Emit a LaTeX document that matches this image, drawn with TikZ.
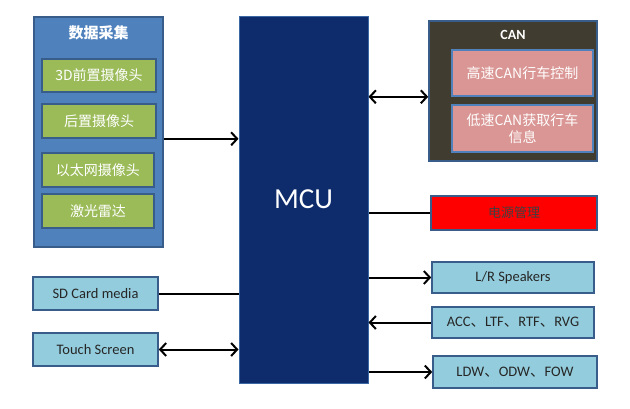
\documentclass[tikz,border=0pt]{standalone}
\usepackage{fontspec}
\setmainfont{Carlito}
\newfontfamily\cjk{Noto Sans CJK SC}
\usetikzlibrary{arrows.meta}
\definecolor{outerblue}{HTML}{4F81BD}
\definecolor{edgeblue}{HTML}{385D8A}
\definecolor{leaf}{HTML}{9BBB59}
\definecolor{navy}{HTML}{0E2C6C}
\definecolor{canbg}{HTML}{413C30}
\definecolor{pinkbox}{HTML}{D99694}
\definecolor{aqua}{HTML}{93CDDD}
\definecolor{txtdark}{HTML}{262626}
\tikzset{
  base/.style={draw=edgeblue, line width=1.6pt, inner sep=0pt, align=center},
  greenbox/.style={base, fill=leaf, text=white, minimum width=114pt, minimum height=33pt, font=\cjk\fontsize{14}{16}\selectfont},
  pinkbox/.style={base, draw=outerblue, fill=pinkbox, text=white, minimum width=141pt, minimum height=46pt, font=\cjk\fontsize{14}{17}\selectfont},
  aquabox/.style={base, fill=aqua, text=txtdark, minimum height=32pt, font=\fontsize{14.5}{16}\selectfont},
  conn/.style={line width=2pt, black},
  tip/.style={},
  arr/.style={conn, -{Straight Barb[length=6pt,width=13pt]}},
  arrboth/.style={conn, {Straight Barb[length=6pt,width=13pt]}-{Straight Barb[length=6pt,width=13pt]}},
  title/.style={inner sep=0pt, text=white, font=\bfseries\fontsize{14}{16}\selectfont}
}
\begin{document}
\begin{tikzpicture}[x=1pt, y=-1pt]
\fill[white] (0,0) rectangle (630,408);
\useasboundingbox (0,0) rectangle (630,408);

% data acquisition group
\node[base, fill=outerblue, minimum width=129pt, minimum height=230pt] (data) at (98.5,132) {};
\node[title, font=\cjk\bfseries\fontsize{15}{17}\selectfont] (datat) at (98.5,33) {数据采集};
\node[greenbox] (g1) at (99,75.5) {3D前置摄像头};
\node[greenbox, minimum height=34pt] (g2) at (99,121) {后置摄像头};
\node[greenbox, minimum height=34pt, minimum width=112pt] (g3) at (98,170) {以太网摄像头};
\node[greenbox, minimum height=34pt, minimum width=112pt] (g4) at (98,211) {激光雷达};

% MCU
\node[draw=outerblue!70!navy, line width=1pt, fill=navy, minimum width=129pt, minimum height=367pt, text=white, font=\fontsize{29}{32}\selectfont] (mcu) at (303.5,199.5) {MCU};

% CAN group
\node[base, fill=canbg, minimum width=168pt, minimum height=140pt] (can) at (513,91) {};
\node[title] (cant) at (513,35) {CAN};
\node[pinkbox] (p1) at (522.5,73) {高速CAN行车控制};
\node[pinkbox, minimum height=47pt] (p2) at (522.5,128.5) {低速CAN获取行车\\信息};

% power
\node[base, fill=red, text=black!75, minimum width=166pt, minimum height=34pt, font=\cjk\fontsize{13}{15}\selectfont] (pwr) at (514,213) {电源管理};

% right outputs
\node[aquabox, minimum width=162pt, minimum height=31pt] (lr) at (513,277.5) {L/R Speakers};
\node[aquabox, minimum width=162pt, minimum height=31pt] (acc) at (513,322.5) {ACC{\cjk 、}LTF{\cjk 、}RTF{\cjk 、}RVG};
\node[aquabox, minimum width=164pt] (ldw) at (515,372) {LDW{\cjk 、}ODW{\cjk 、}FOW};

% left lower
\node[aquabox, minimum width=125pt, minimum height=33pt] (sd) at (95.5,293.5) {SD Card media};
\node[aquabox, minimum width=125pt, minimum height=33pt] (ts) at (95.5,349.5) {Touch Screen};

% connectors
\draw[arr] (g2.south -| data.east) -- (g2.south -| mcu.west);
\draw[arrboth] (p1.south -| mcu.east) -- (p1.south -| can.west);
\draw[conn] (pwr.west -| mcu.east) -- (pwr.west);
\draw[arr] (lr.west -| mcu.east) -- (lr.west);
\draw[arr] (acc.west) -- (acc.west -| mcu.east);
\draw[arr] (ldw.west -| mcu.east) -- (ldw.west);
\draw[conn] (sd.east) -- (sd.east -| mcu.west);
\draw[arrboth] (ts.east) -- (ts.east -| mcu.west);
\end{tikzpicture}
\end{document}
